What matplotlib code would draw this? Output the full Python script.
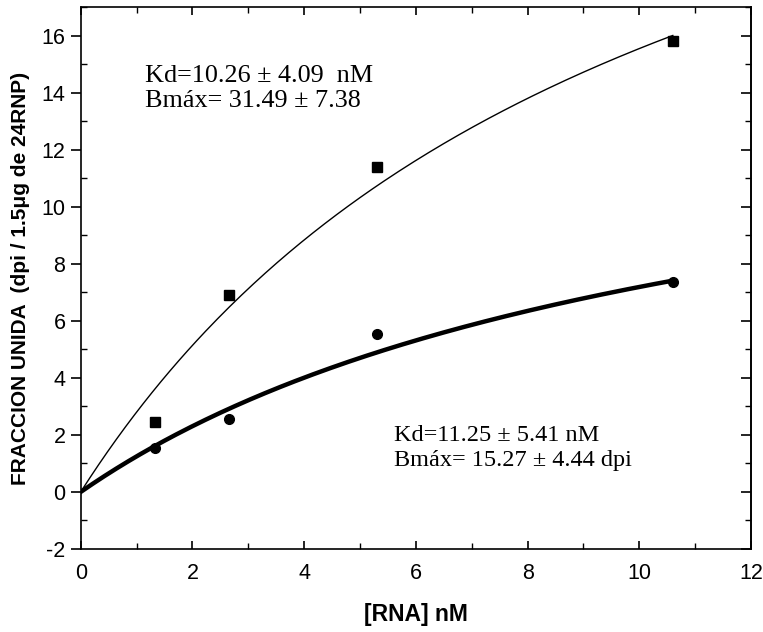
import numpy as np
import matplotlib.pyplot as plt
from matplotlib.ticker import MultipleLocator

# measured points
rna_nM = [1.33, 2.65, 5.3, 10.6]
bound_sq = [2.46, 6.9, 11.4, 15.8]
bound_circ = [1.53, 2.55, 5.55, 7.35]

# fitted parameters (one-site binding)
kd_sq, bmax_sq = 10.26, 31.49
kd_circ, bmax_circ = 11.25, 15.27

x_fit = np.linspace(0, 10.6, 200)


def binding(x, kd, bmax):
    return bmax * x / (kd + x)


plt.rcParams['font.family'] = ['Liberation Sans', 'DejaVu Sans']
plt.rcParams['axes.unicode_minus'] = False

fig = plt.figure(figsize=(7.63, 6.32), dpi=100)
ax = fig.add_axes([80.7 / 763, 1 - 549 / 632, (751 - 80.7) / 763, (549 - 7) / 632])

ax.plot(x_fit, binding(x_fit, kd_sq, bmax_sq), color='black', lw=1.0)
ax.plot(x_fit, binding(x_fit, kd_circ, bmax_circ), color='black', lw=3.2)
ax.plot(rna_nM, bound_sq, linestyle='None', marker='s', color='black', markersize=6.5)
ax.plot(rna_nM, bound_circ, linestyle='None', marker='o', color='black', markersize=7)

ax.set_xlim(0, 12)
ax.set_ylim(-2, 17)
ax.xaxis.set_major_locator(MultipleLocator(2))
ax.xaxis.set_minor_locator(MultipleLocator(1))
ax.yaxis.set_major_locator(MultipleLocator(2))
ax.yaxis.set_minor_locator(MultipleLocator(1))

ax.tick_params(axis='x', which='major', direction='in', length=6, width=1.2,
               labelsize=15.5, pad=10, top=True)
ax.tick_params(axis='x', which='minor', direction='in', length=4, width=1.0, top=True)
ax.tick_params(axis='y', which='major', direction='out', length=7, width=1.2,
               labelsize=15.5, pad=4)
ax.tick_params(axis='y', which='minor', direction='in', length=4, width=1.0)

right = ax.secondary_yaxis('right')
right.yaxis.set_major_locator(MultipleLocator(2))
right.yaxis.set_minor_locator(MultipleLocator(1))
right.tick_params(which='major', direction='in', length=7, width=1.2, labelright=False)
right.tick_params(which='minor', direction='in', length=4, width=1.0)

for s in ax.spines.values():
    s.set_linewidth(1.2)
right.spines['right'].set_linewidth(1.2)

ax.set_xlabel('[RNA] nM', fontsize=16.5, fontweight='bold', labelpad=14)
ax.set_ylabel('FRACCION UNIDA  (dpi / 1.5\u03bcg de 24RNP)', fontsize=15,
              fontweight='bold', labelpad=8)

serif = ['Liberation Serif', 'DejaVu Serif']
ax.text(1.16, 14.95, 'Kd=10.26 \u00b1 4.09  nM\nBm\u00e1x= 31.49 \u00b1 7.38',
        fontsize=18.8, family=serif, va='top', ha='left', linespacing=1.15)
ax.text(5.6, 2.35, 'Kd=11.25 \u00b1 5.41 nM\nBm\u00e1x= 15.27 \u00b1 4.44 dpi',
        fontsize=17.5, family=serif, va='top', ha='left', linespacing=1.25)

fig.savefig('out.png', dpi=100)
